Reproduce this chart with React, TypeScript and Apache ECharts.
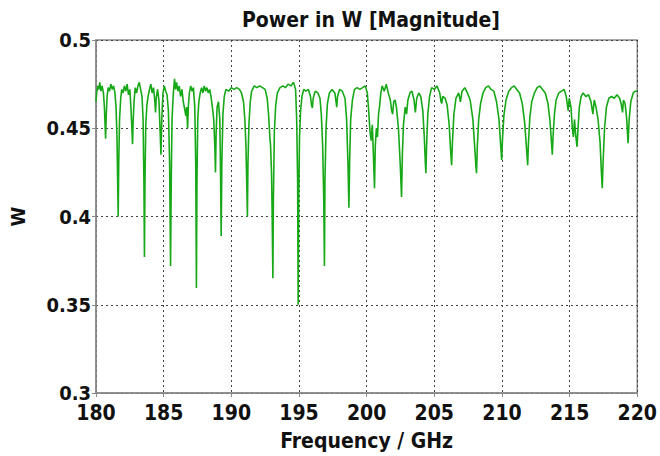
import React, { useEffect, useRef } from "react";
import * as echarts from "echarts";

const titleText = "Power in W [Magnitude]";
const xAxisName = "Frequency / GHz";
const yAxisName = "W";
const xRange = [180, 220];
const yRange = [0.3, 0.5];

// [frequency GHz, power W]
const powerSpectrum: [number, number][] = [
  [180.0, 0.465], [180.05, 0.47], [180.12, 0.474], [180.2, 0.472], [180.28, 0.476], [180.36, 0.471], [180.45, 0.474], [180.55, 0.47], [180.62, 0.462], [180.68, 0.45], [180.71, 0.444], [180.75, 0.456], [180.82, 0.468], [180.9, 0.473],
  [181.0, 0.471], [181.1, 0.475], [181.2, 0.472], [181.3, 0.474], [181.4, 0.47], [181.48, 0.462], [181.55, 0.445], [181.6, 0.42], [181.64, 0.4], [181.68, 0.43], [181.74, 0.455], [181.82, 0.466], [181.9, 0.472],
  [182.0, 0.47], [182.1, 0.474], [182.2, 0.471], [182.3, 0.475], [182.4, 0.469], [182.5, 0.472], [182.58, 0.462], [182.65, 0.45], [182.7, 0.441], [182.75, 0.455], [182.82, 0.466], [182.9, 0.473],
  [183.0, 0.47], [183.1, 0.474], [183.2, 0.476], [183.3, 0.472], [183.4, 0.468], [183.48, 0.455], [183.54, 0.42], [183.58, 0.377], [183.62, 0.42], [183.68, 0.452], [183.76, 0.463], [183.85, 0.468], [183.95, 0.472],
  [184.05, 0.475], [184.15, 0.47], [184.25, 0.473], [184.35, 0.465], [184.4, 0.459], [184.45, 0.467], [184.55, 0.472], [184.65, 0.466], [184.72, 0.452], [184.8, 0.435], [184.86, 0.455], [184.95, 0.47],
  [185.05, 0.474], [185.15, 0.471], [185.25, 0.469], [185.35, 0.46], [185.44, 0.43], [185.51, 0.372], [185.56, 0.42], [185.62, 0.455], [185.7, 0.468], [185.8, 0.478], [185.88, 0.472], [185.95, 0.476],
  [186.05, 0.471], [186.15, 0.474], [186.25, 0.468], [186.35, 0.472], [186.45, 0.465], [186.55, 0.461], [186.64, 0.457], [186.7, 0.462], [186.77, 0.45], [186.83, 0.463], [186.9, 0.47],
  [187.0, 0.474], [187.1, 0.471], [187.2, 0.473], [187.3, 0.462], [187.37, 0.43], [187.42, 0.3595], [187.46, 0.42], [187.52, 0.455], [187.6, 0.465], [187.7, 0.47], [187.8, 0.473], [187.9, 0.47],
  [188.0, 0.474], [188.1, 0.471], [188.2, 0.473], [188.3, 0.47], [188.4, 0.472], [188.5, 0.468], [188.6, 0.462], [188.7, 0.455], [188.78, 0.44], [188.83, 0.425], [188.88, 0.448], [188.95, 0.462],
  [189.05, 0.465], [189.15, 0.455], [189.21, 0.42], [189.25, 0.389], [189.3, 0.43], [189.38, 0.458], [189.48, 0.468], [189.6, 0.472], [189.8, 0.471],
  [190.0, 0.473], [190.2, 0.472], [190.4, 0.473], [190.6, 0.472], [190.75, 0.47], [190.9, 0.465], [191.0, 0.455], [191.08, 0.44], [191.15, 0.415], [191.19, 0.4], [191.23, 0.43], [191.3, 0.452], [191.4, 0.465], [191.5, 0.471], [191.7, 0.474], [191.9, 0.473],
  [192.1, 0.474], [192.3, 0.473], [192.5, 0.472], [192.65, 0.467], [192.75, 0.458], [192.85, 0.445], [192.9, 0.44], [192.97, 0.425], [193.02, 0.4], [193.07, 0.365], [193.11, 0.41], [193.18, 0.448], [193.28, 0.463], [193.4, 0.47], [193.6, 0.473], [193.8, 0.474],
  [194.0, 0.473], [194.2, 0.475], [194.4, 0.474], [194.6, 0.476], [194.75, 0.472], [194.83, 0.455], [194.9, 0.42], [194.94, 0.35], [194.98, 0.41], [195.04, 0.445], [195.12, 0.46], [195.22, 0.468], [195.35, 0.472], [195.5, 0.471], [195.7, 0.472], [195.85, 0.468], [195.93, 0.463], [195.99, 0.4615],
  [196.05, 0.467], [196.2, 0.471], [196.4, 0.47], [196.55, 0.467], [196.65, 0.458], [196.75, 0.44], [196.83, 0.41], [196.88, 0.372], [196.92, 0.42], [197.0, 0.45], [197.1, 0.464], [197.25, 0.47], [197.45, 0.472], [197.65, 0.47], [197.74, 0.465], [197.79, 0.462], [197.85, 0.468],
  [198.0, 0.472], [198.2, 0.471], [198.4, 0.467], [198.52, 0.455], [198.62, 0.43], [198.69, 0.405], [198.74, 0.43], [198.82, 0.455], [198.95, 0.466], [199.1, 0.472], [199.3, 0.473], [199.5, 0.472], [199.7, 0.473], [199.9, 0.474],
  [200.05, 0.47], [200.15, 0.46], [200.25, 0.448], [200.34, 0.443], [200.42, 0.452], [200.5, 0.435], [200.58, 0.416], [200.64, 0.44], [200.72, 0.45], [200.8, 0.445], [200.88, 0.458], [200.95, 0.462],
  [201.05, 0.47], [201.15, 0.474], [201.3, 0.471], [201.45, 0.475], [201.6, 0.47], [201.75, 0.466], [201.85, 0.46], [201.92, 0.458], [202.0, 0.465], [202.1, 0.466], [202.2, 0.462], [202.35, 0.45], [202.48, 0.43], [202.58, 0.411], [202.64, 0.435], [202.72, 0.452], [202.85, 0.462], [202.95, 0.458],
  [203.05, 0.466], [203.2, 0.47], [203.35, 0.471], [203.5, 0.466], [203.6, 0.459], [203.7, 0.467], [203.85, 0.47], [204.0, 0.468], [204.15, 0.46], [204.26, 0.445], [204.34, 0.43], [204.38, 0.4245], [204.43, 0.44], [204.52, 0.458], [204.65, 0.468], [204.8, 0.473],
  [205.0, 0.472], [205.2, 0.474], [205.4, 0.47], [205.5, 0.465], [205.55, 0.464], [205.62, 0.468], [205.8, 0.467], [205.95, 0.463], [206.1, 0.452], [206.2, 0.438], [206.28, 0.429], [206.34, 0.442], [206.45, 0.458], [206.6, 0.467], [206.8, 0.47], [206.93, 0.465],
  [207.05, 0.471], [207.25, 0.473], [207.45, 0.47], [207.65, 0.466], [207.85, 0.455], [207.98, 0.44], [208.08, 0.428], [208.12, 0.4245], [208.18, 0.44], [208.28, 0.455], [208.42, 0.464], [208.6, 0.47], [208.8, 0.473],
  [209.0, 0.474], [209.2, 0.472], [209.4, 0.471], [209.6, 0.465], [209.78, 0.455], [209.9, 0.441], [209.98, 0.432], [210.04, 0.444], [210.14, 0.457], [210.3, 0.466], [210.5, 0.471], [210.7, 0.473], [210.9, 0.474],
  [211.1, 0.472], [211.3, 0.47], [211.5, 0.464], [211.68, 0.453], [211.82, 0.438], [211.9, 0.429], [211.96, 0.442], [212.06, 0.456], [212.2, 0.465], [212.4, 0.47], [212.6, 0.473], [212.8, 0.474],
  [213.0, 0.472], [213.2, 0.47], [213.4, 0.464], [213.55, 0.454], [213.66, 0.442], [213.72, 0.435], [213.78, 0.446], [213.88, 0.458], [214.0, 0.466], [214.2, 0.47], [214.4, 0.471], [214.6, 0.472], [214.75, 0.468], [214.89, 0.46], [214.97, 0.467],
  [215.1, 0.462], [215.2, 0.45], [215.28, 0.445], [215.36, 0.455], [215.45, 0.446], [215.55, 0.4395], [215.62, 0.45], [215.72, 0.462], [215.85, 0.468], [216.0, 0.47], [216.2, 0.468], [216.4, 0.469], [216.58, 0.465], [216.72, 0.458], [216.82, 0.466], [216.95, 0.462],
  [217.1, 0.455], [217.25, 0.442], [217.35, 0.425], [217.41, 0.416], [217.47, 0.43], [217.58, 0.45], [217.72, 0.462], [217.9, 0.467], [218.1, 0.468], [218.3, 0.467], [218.5, 0.469], [218.7, 0.467], [218.83, 0.463], [218.91, 0.459], [218.98, 0.466],
  [219.1, 0.464], [219.22, 0.455], [219.32, 0.4415], [219.4, 0.455], [219.52, 0.465], [219.7, 0.47], [219.85, 0.471], [220.0, 0.471],
];

const FONT = "'DejaVu Sans Condensed', 'DejaVu Sans', sans-serif";

export default function App() {
  const ref = useRef<HTMLDivElement>(null);
  useEffect(() => {
    if (!ref.current) return;
    const chart = echarts.init(ref.current, undefined, { renderer: "svg" });
    chart.setOption({
      animation: false,
      backgroundColor: "#ffffff",
      title: {
        text: titleText,
        left: 366,
        textAlign: "center",
        top: 4,
        textStyle: { fontFamily: FONT, fontWeight: "bold", fontSize: 21, color: "#111" },
      },
      grid: {
        left: 92,
        right: 20,
        top: 40,
        bottom: 63,
        show: true,
        borderColor: "#8a8a8a",
        borderWidth: 1.5,
        backgroundColor: "transparent",
      },
      xAxis: {
        type: "value",
        min: xRange[0],
        max: xRange[1],
        interval: 5,
        name: xAxisName,
        nameLocation: "middle",
        nameGap: 37,
        nameTextStyle: { fontFamily: FONT, fontWeight: "bold", fontSize: 21, color: "#111" },
        axisLine: { show: true, lineStyle: { color: "#8a8a8a", width: 1.5 } },
        axisTick: { show: true, length: 4, lineStyle: { color: "#8a8a8a" } },
        axisLabel: { fontFamily: FONT, fontWeight: "bold", fontSize: 21, lineHeight: 18, color: "#111", margin: 11 },
        splitLine: { show: true, lineStyle: { type: [2, 3], color: "#444", width: 1 } },
      },
      yAxis: {
        type: "value",
        min: yRange[0],
        max: yRange[1],
        interval: 0.05,
        name: yAxisName,
        nameLocation: "middle",
        nameGap: 68,
        nameTextStyle: { fontFamily: FONT, fontWeight: "bold", fontSize: 20, color: "#111" },
        axisLine: { show: true, lineStyle: { color: "#8a8a8a", width: 1.5 } },
        axisTick: { show: true, length: 4, lineStyle: { color: "#8a8a8a" } },
        axisLabel: { fontFamily: FONT, fontWeight: "bold", fontSize: 20, lineHeight: 16, color: "#111", margin: 5 },
        splitLine: { show: true, lineStyle: { type: [2, 3], color: "#444", width: 1 } },
      },
      series: [
        {
          type: "line",
          data: powerSpectrum,
          showSymbol: false,
          symbol: "none",
          lineStyle: { color: "#17a817", width: 1.6 },
          z: 3,
        },
      ],
    });
    return () => chart.dispose();
  }, []);
  return <div ref={ref} style={{ width: 660, height: 456, position: "fixed", left: 0, top: 0 }} />;
}
